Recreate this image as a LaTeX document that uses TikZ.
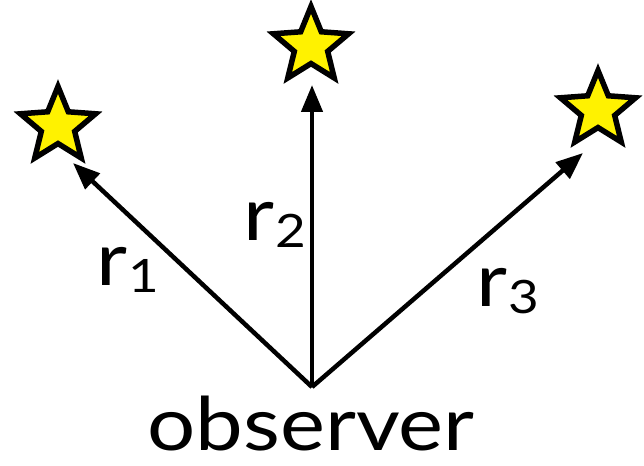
\documentclass[tikz,border=0pt]{standalone}
\usepackage{fontspec}
\setmainfont{Lato}[FakeStretch=1.15]
\usetikzlibrary{shapes.geometric,arrows.meta}
\newcommand{\subsc}[1]{\kern1pt\raisebox{-7pt}{\fontsize{46}{46}\selectfont #1}}
\tikzset{
  starnode/.style={star, star points=5, star point ratio=2.25, minimum size=79pt, inner sep=0pt, outer sep=0pt, draw=black, fill=yellow, line width=5.5pt, line join=miter},
  ray/.style={line width=4.5pt, -{Triangle[length=27pt,width=21pt]}},
  lbl/.style={inner sep=0pt, text depth=0pt, font=\fontsize{74}{74}\selectfont},
}
\begin{document}
\begin{tikzpicture}[x=1pt,y=-1pt]
\useasboundingbox (0,0) rectangle (644,465);
\node[starnode] (s1) at (58,126) {};
\node[starnode] (s2) at (311,46) {};
\node[starnode] (s3) at (598,110) {};
\coordinate (O) at (312,387);
\coordinate (t1) at (73,163);
\coordinate (t2) at (312,85);
\coordinate (t3) at (583,153);
\draw[ray] (O) -- (t1);
\draw[ray] (O) -- (t2);
\draw[ray] (O) -- (t3);
\node[lbl, anchor=base west] (r1) at (96,285) {r\subsc{1}};
\node[lbl, anchor=base west] (r2) at (243,240) {r\subsc{2}};
\node[lbl, anchor=base west] (r3) at (476,306) {r\subsc{3}};
\node[lbl, anchor=base] (obs) at (311,450) {observer};
\end{tikzpicture}
\end{document}
